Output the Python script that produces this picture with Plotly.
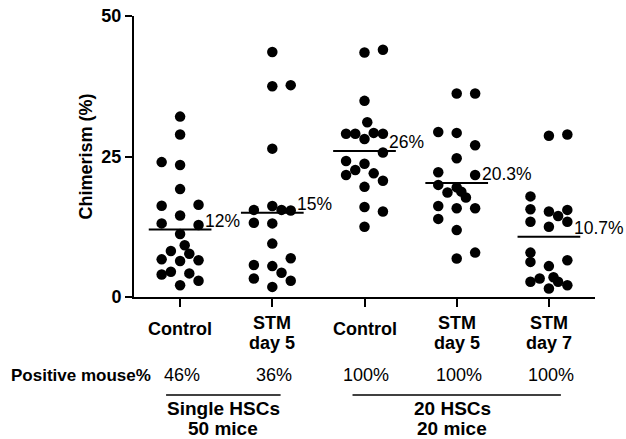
import plotly.graph_objects as go

# ---------------- data ----------------
categories = ["Control", "STM day 5", "Control", "STM day 5", "STM day 7"]
cat_line1 = ["Control", "STM", "Control", "STM", "STM"]
cat_line2 = ["", "day 5", "", "day 5", "day 7"]

single_control = [32.1, 28.9, 24.0, 23.5, 19.2, 16.25, 16.4, 14.5, 13.1, 12.8, 11.2,
                  9.2, 8.2, 7.7, 6.7, 6.4, 6.55, 4.0, 4.5, 4.2, 2.1, 2.9]
single_stm5 = [43.6, 37.5, 37.7, 26.4, 16.2, 15.5, 15.5, 15.4, 13.2, 13.1, 9.5,
               6.9, 5.7, 5.5, 4.3, 3.3, 2.9, 1.8]
twenty_control = [44.0, 43.5, 34.9, 31.1, 29.05, 29.05, 28.1, 29.2, 29.05, 25.7,
                  24.2, 23.7, 22.6, 21.7, 22.0, 20.7, 19.6, 16.0, 15.2, 12.5]
twenty_stm5 = [36.2, 36.2, 29.35, 29.2, 27.0, 24.7, 22.2, 21.7, 19.95, 18.6, 19.5,
               18.75, 17.7, 16.2, 15.8, 15.8, 13.9, 11.9, 7.9, 6.85]
twenty_stm7 = [28.7, 28.9, 17.9, 15.6, 15.2, 15.5, 14.4, 13.4, 13.4, 12.5, 7.9,
               6.25, 5.5, 6.55, 2.7, 3.3, 3.5, 2.7, 1.5, 2.1]
series = [single_control, single_stm5, twenty_control, twenty_stm5, twenty_stm7]

# horizontal jitter slots (in tenths of a category width) used by the dot plot
slots = [
    [0, 0, -2, 0, 0, -2, 2, 0, -2, 2, 0, 0.5, -1, 1, -2, 0, 2, -2, -1, 1, 0, 2],
    [0, 0, 2, 0, 0, -2, 1, 2, -2, 0, 0, 2, -2, 0, 1, -2, 2, 0],
    [2, 0, 0, 0.3, -2, -1, 0, 1, 2, 2, -2, 0, -1, -2, 1, 2, 0, 0, 2, 0],
    [0, 2, -2, 0, 2, 0, -2, 2, -2, -1, 0, 0.5, 1, -2, 0, 2, -2, 0, 2, 0],
    [0, 2, -2, -2, 0, 2, 1, -2, 2, 0, -2, -2, 0, 2, -2, -1, 0.5, 1, 0, 2],
]

mean_values = [12, 15, 26, 20.3, 10.7]
mean_labels = ["12%", "15%", "26%", "20.3%", "10.7%"]
positive_pct = ["46%", "36%", "100%", "100%", "100%"]
group_line1 = ["Single HSCs", "20 HSCs"]
group_line2 = ["50 mice", "20 mice"]
y_ticks = [0, 25, 50]

# ---------------- layout geometry (screen pixels) ----------------
OFF = 0                      # body margin removed by post_script below
SW, SH = 626, 439            # screenshot size
W, H = SW - OFF, SH - OFF    # figure size
PLOT_L, PLOT_R, PLOT_T, PLOT_B = 134, 595, 16, 296.7   # plot box on screen
ML, MR, MT, MB = PLOT_L - OFF, SW - PLOT_R, PLOT_T - OFF, SH - PLOT_B
PH = PLOT_B - PLOT_T
PW = PLOT_R - PLOT_L
XMIN, XMAX = -0.5, 4.5

def cat_paper(c):
    return (c - XMIN) / (XMAX - XMIN)

def px_y(py):  # screen row -> paper y
    return (PLOT_B - py) / PH

def px_x(px):  # screen column -> paper x
    return (px - PLOT_L) / PW

FONT = "Arial, Liberation Sans, Helvetica, sans-serif"
fig = go.Figure()

for i, vals in enumerate(series):
    xs = [i + s * 0.1 for s in slots[i]]
    fig.add_trace(go.Scatter(x=xs, y=vals, mode="markers",
                             marker=dict(color="black", size=10.5, line=dict(width=0)),
                             cliponaxis=False, showlegend=False, hoverinfo="y"))
    fig.add_trace(go.Scatter(x=[i - 0.34, i + 0.34], y=[mean_values[i]] * 2, mode="lines",
                             line=dict(color="black", width=2), showlegend=False,
                             hoverinfo="skip"))

def bold(size):
    return dict(family=FONT, size=size, color="black", weight="bold")

def reg(size):
    return dict(family=FONT, size=size, color="black")

def ann(x, y, text, font, xanchor="center", **kw):
    return dict(x=x, y=y, xref="paper", yref="paper", text=text, showarrow=False,
                xanchor=xanchor, yanchor="middle", borderpad=0, font=font, **kw)

annotations = []
for i in range(len(categories)):
    annotations.append(dict(x=i + 0.26, y=mean_values[i], xref="x", yref="y",
                            text=mean_labels[i], showarrow=False, xanchor="left",
                            yanchor="middle", yshift=9, borderpad=0, font=reg(17.5)))
    xp = cat_paper(i)
    if cat_line2[i]:
        annotations.append(ann(xp, px_y(322.5), cat_line1[i], bold(18)))
        annotations.append(ann(xp, px_y(343), cat_line2[i], bold(18)))
    else:
        annotations.append(ann(xp, px_y(328.5), cat_line1[i], bold(18)))
    annotations.append(ann(cat_paper(i + 0.02), px_y(375), positive_pct[i], reg(18)))

annotations.append(ann(px_x(152), px_y(375), "Positive mouse%", bold(17), xanchor="right"))
annotations.append(ann(px_x(85), 0.5, "Chimerism (%)", bold(18), textangle=-90))

shapes = []
line_ext = [(-0.152, 1.09), (1.87, 4.13)]
label_centers = [0.47, 2.95]
for j, (x0, x1) in enumerate(line_ext):
    shapes.append(dict(type="line", xref="paper", yref="paper",
                       x0=cat_paper(x0), x1=cat_paper(x1), y0=px_y(394.5), y1=px_y(394.5),
                       line=dict(color="black", width=1.5)))
    annotations.append(ann(cat_paper(label_centers[j]), px_y(408), group_line1[j], bold(19)))
    annotations.append(ann(cat_paper(label_centers[j]), px_y(428), group_line2[j], bold(19)))

fig.update_layout(
    width=W, height=H,
    margin=dict(l=ML, r=MR, t=MT, b=MB, autoexpand=False),
    paper_bgcolor="white", plot_bgcolor="white",
    showlegend=False,
    annotations=annotations, shapes=shapes,
    xaxis=dict(range=[XMIN, XMAX], tickvals=list(range(len(categories))),
               showticklabels=False, ticks="outside", ticklen=8, tickwidth=2,
               tickcolor="black", showline=True, linecolor="black", linewidth=2,
               showgrid=False, zeroline=False, fixedrange=True, automargin=False),
    yaxis=dict(range=[0, 50], tickvals=y_ticks, ticks="outside", ticklen=7,
               tickwidth=2, tickcolor="black", showline=True, linecolor="black",
               linewidth=2, showgrid=False, zeroline=False, automargin=False,
               ticklabeloverflow="allow", tickfont=bold(18)),
)

fig.write_html("out.html", config={"displayModeBar": False},
               post_script="document.body.style.margin='0';document.body.style.overflow='hidden';")
